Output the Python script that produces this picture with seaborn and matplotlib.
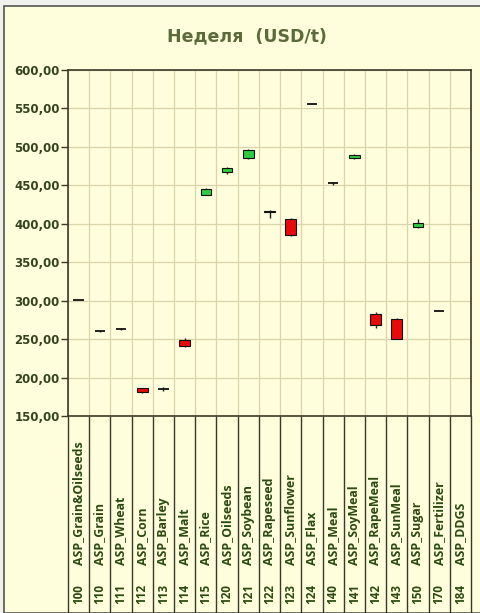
"""
Недельный график цен (USD/t) в виде свечей по группам ASP.
"""

import matplotlib
matplotlib.use('Agg')
import matplotlib.pyplot as plt
import matplotlib.transforms as mtransforms
from matplotlib.patches import Rectangle
from matplotlib.ticker import FuncFormatter, MultipleLocator
import seaborn as sns
import pandas as pd
import numpy as np

# Данные
codes = ['100', '110', '111', '112', '113', '114', '115', '120', '121', '122',
         '123', '124', '140', '141', '142', '143', '150', '170', '184']
names = ['ASP_Grain&Oilseeds', 'ASP_Grain', 'ASP_Wheat', 'ASP_Corn', 'ASP_Barley',
         'ASP_Malt', 'ASP_Rice', 'ASP_Oilseeds', 'ASP_Soybean', 'ASP_Rapeseed',
         'ASP_Sunflower', 'ASP_Flax', 'ASP_Meal', 'ASP_SoyMeal', 'ASP_RapeMeal',
         'ASP_SunMeal', 'ASP_Sugar', 'ASP_Fertilizer', 'ASP_DDGS']
open_ = [301, 260, 263, 186, 185.5, 249, 437, 467, 485, 416,
         406, 556, 453, 485, 283, 276, 396, 287, np.nan]
close = [301, 260, 263, 181, 185.5, 241, 445, 472, 496, 415,
         385, 556, 453, 490, 268, 250, 401, 287, np.nan]
high = [301.5, 260.5, 264, 187, 188, 251, 446, 474, 497, 418,
        407, 556, 454, 491, 285, 277, 406, 287, np.nan]
low = [300.5, 259.5, 262.5, 180, 183, 240, 437, 465, 484, 407,
       384, 556, 450, 484, 264, 250, 395, 287, np.nan]

df = pd.DataFrame({'code': codes, 'name': names, 'open': open_,
                   'close': close, 'high': high, 'low': low})

BG = '#FEFDDC'
GRID = '#D9D5A8'
GREEN = '#2FCB3F'
RED = '#E80A0A'
LABEL = '#2B4A10'
TICK = '#34431C'
TITLE = '#5B6B3A'

sns.set_theme(style='white')
plt.rcParams['font.family'] = ['DejaVu Sans']

fig = plt.figure(figsize=(4.8, 6.13), dpi=100)
fig.patch.set_facecolor('#F0F0EC')
frame = Rectangle((4 / 480, 0), 1.0, 1 - 6 / 613, transform=fig.transFigure,
                  facecolor=BG, edgecolor='#555555', linewidth=1.2, zorder=-10)
fig.add_artist(frame)

ax = fig.add_axes([68 / 480, 1 - 416 / 613, 403 / 480, 346 / 613])
ax.set_zorder(1)
ax.set_facecolor(BG)

n = len(df)
x = np.arange(n)
ax.set_xlim(-0.5, n - 0.5)
ax.set_ylim(150, 600)

# сетка
ax.yaxis.set_major_locator(MultipleLocator(50))
ax.yaxis.set_major_formatter(FuncFormatter(lambda v, p: f'{v:.2f}'.replace('.', ',')))
ax.set_xticks(np.arange(-0.5, n, 1.0))
ax.set_xticklabels([])
ax.grid(True, color=GRID, linewidth=0.9)
ax.set_axisbelow(True)

# свечи
up = df['close'] >= df['open']
colors = np.where(up, GREEN, RED)
body_low = df[['open', 'close']].min(axis=1)
body_h = (df['open'] - df['close']).abs()
ax.vlines(x, df['low'], df['high'], color='#222222', linewidth=1.0, zorder=2)
flat = (body_h < 1).to_numpy()
ax.bar(x[~flat], body_h[~flat], bottom=body_low[~flat], width=0.5,
       color=colors[~flat], edgecolor='#111111', linewidth=0.8, zorder=3)
ax.hlines(df['open'][flat], x[flat] - 0.25, x[flat] + 0.25,
          color='#111111', linewidth=1.3, zorder=3)

for s in ax.spines.values():
    s.set_color('#3A3A2A')
    s.set_linewidth(1.2)

ax.tick_params(axis='y', which='major', left=True, length=5, width=1,
               color='#3A3A2A', labelsize=8.5, labelcolor=TICK, pad=1)
for t in ax.get_yticklabels():
    t.set_fontweight('bold')
ax.tick_params(axis='x', bottom=False)

# подписи категорий (таблица под графиком)
trans = mtransforms.blended_transform_factory(ax.transData, ax.transAxes)
ax.vlines(np.arange(-0.5, n, 1.0), -0.58, 0, transform=trans, color='#3A3A2A',
          linewidth=1.0, clip_on=False)
for i, row in df.iterrows():
    ax.text(i, -0.43, row['name'], transform=trans, rotation=90, ha='center',
            va='bottom', fontsize=8.9, fontweight='bold', color=LABEL,
            family=['Open Sans', 'DejaVu Sans'])
    ax.text(i, -0.515, row['code'], transform=trans, rotation=90, ha='center',
            va='center', fontsize=8.4, fontweight='bold', color=LABEL,
            family=['Open Sans', 'DejaVu Sans'])

fig.text(247 / 480, 1 - 36 / 613, 'Неделя  (USD/t)', ha='center', va='center',
         fontsize=12.5, fontweight='bold', color=TITLE)

fig.savefig('out.png', dpi=100, facecolor=fig.get_facecolor())
